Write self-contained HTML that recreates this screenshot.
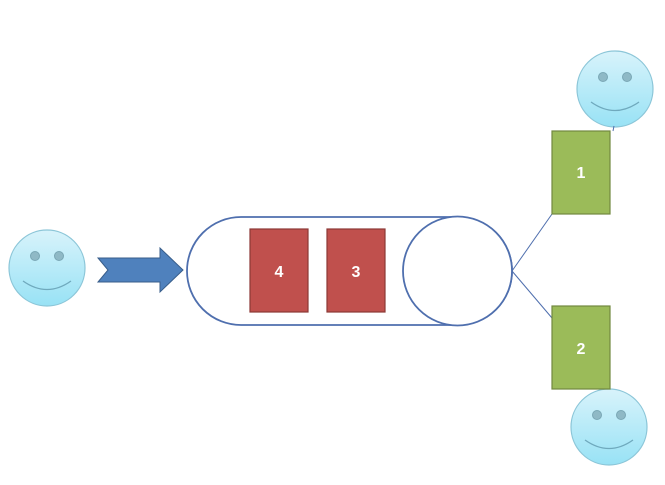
<!DOCTYPE html>
<html><head><meta charset="utf-8"><style>
html,body{margin:0;padding:0;background:#fff;width:665px;height:485px;overflow:hidden}
svg{display:block}
text{font-family:"Liberation Sans",sans-serif;font-weight:bold;font-size:16px;fill:#fff}
</style></head><body>
<svg width="665" height="485" viewBox="0 0 665 485">
<defs>
<linearGradient id="sg" x1="0" y1="0" x2="0" y2="1">
<stop offset="0" stop-color="#d8f3fb"/><stop offset="1" stop-color="#98e2f5"/>
</linearGradient>
<g id="smile">
<circle cx="0" cy="0" r="38" fill="url(#sg)" stroke="#8cc6d8" stroke-width="1.2"/>
<circle cx="-12" cy="-12" r="4.5" fill="#8fb9c6" stroke="#7aa7b5" stroke-width="1"/>
<circle cx="12" cy="-12" r="4.5" fill="#8fb9c6" stroke="#7aa7b5" stroke-width="1"/>
<path d="M-24,13 Q0,30 24,13" fill="none" stroke="#6fa9bd" stroke-width="1.3"/>
</g>
</defs>
<use href="#smile" x="47" y="268"/>
<use href="#smile" x="615" y="89"/>
<use href="#smile" x="609" y="427"/>
<polygon points="98,258 160,258 160,248 183,270 160,292 160,282 98,282 108,270" fill="#4f81bd" stroke="#385d8a" stroke-width="1"/>
<path d="M241,217 L458,217 A54,54 0 0 1 458,325 L241,325 A54,54 0 0 1 241,217 Z" fill="#fff" stroke="#4f6fae" stroke-width="1.8"/>
<circle cx="457.5" cy="271" r="54.5" fill="#fff" stroke="#4f6fae" stroke-width="1.8"/>
<rect x="250" y="229" width="58" height="83" fill="#c0504d" stroke="#8c3836" stroke-width="1.2"/>
<rect x="327" y="229" width="58" height="83" fill="#c0504d" stroke="#8c3836" stroke-width="1.2"/>
<text x="279" y="277" text-anchor="middle">4</text>
<text x="356" y="277" text-anchor="middle">3</text>
<line x1="512" y1="271" x2="552" y2="214" stroke="#4f6fae" stroke-width="1"/>
<line x1="512" y1="271" x2="552" y2="318" stroke="#4f6fae" stroke-width="1"/>
<line x1="613" y1="131" x2="614" y2="126" stroke="#4f6fae" stroke-width="1"/>
<rect x="552" y="131" width="58" height="83" fill="#9bbb59" stroke="#71893f" stroke-width="1.2"/>
<rect x="552" y="306" width="58" height="83" fill="#9bbb59" stroke="#71893f" stroke-width="1.2"/>
<text x="581" y="178" text-anchor="middle">1</text>
<text x="581" y="354" text-anchor="middle">2</text>
</svg>
</body></html>
